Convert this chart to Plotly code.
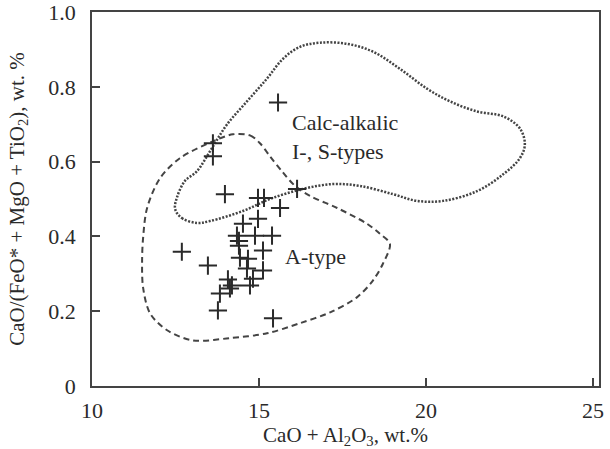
import plotly.graph_objects as go

# sample points, CaO + Al2O3 vs CaO/(FeO* + MgO + TiO2)
sample_x = [15.57, 13.62, 13.62, 13.98, 14.97, 15.15, 16.14, 15.63, 14.52, 14.97,
            14.34, 14.88, 15.39, 14.40, 14.40, 15.12, 12.69, 14.43, 14.67, 13.47,
            14.64, 15.12, 14.82, 14.07, 14.19, 14.13, 14.73, 13.83, 13.77, 15.42]
sample_y = [0.758, 0.649, 0.614, 0.513, 0.503, 0.503, 0.527, 0.476, 0.434, 0.447,
            0.402, 0.402, 0.402, 0.388, 0.375, 0.362, 0.359, 0.343, 0.340, 0.322,
            0.314, 0.309, 0.287, 0.285, 0.269, 0.261, 0.269, 0.247, 0.202, 0.181]

# calc-alkalic I-, S-types field (dotted outline)
calc_x = [12.49, 12.69, 13.14, 13.53, 14.52, 15.33, 16.32, 17.22, 18.02, 19.01,
          19.73, 20.51, 21.53, 22.31, 22.81, 22.96, 22.81, 22.31, 21.53, 20.72,
          20.03, 19.22, 18.41, 17.63, 16.83, 16.23, 15.72, 15.24, 14.64, 14.04,
          13.59, 13.14, 12.78, 12.54, 12.49]
calc_y = [0.473, 0.449, 0.436, 0.441, 0.468, 0.500, 0.527, 0.540, 0.535, 0.513,
          0.495, 0.495, 0.521, 0.566, 0.609, 0.646, 0.689, 0.721, 0.734, 0.761,
          0.795, 0.848, 0.894, 0.915, 0.918, 0.907, 0.875, 0.822, 0.761, 0.699,
          0.636, 0.574, 0.548, 0.503, 0.473]

# A-type field (dashed outline)
atype_x = [14.22, 14.73, 15.03, 15.33, 15.69, 16.08, 16.53, 17.34, 18.23, 18.62,
           18.92, 18.71, 18.41, 17.93, 17.13, 16.23, 15.24, 14.13, 13.02, 12.25,
           11.74, 11.53, 11.50, 11.53, 11.65, 12.04, 12.63, 13.62, 14.22]
atype_y = [0.673, 0.670, 0.649, 0.614, 0.574, 0.535, 0.508, 0.476, 0.434, 0.407,
           0.380, 0.327, 0.282, 0.237, 0.197, 0.168, 0.141, 0.128, 0.122, 0.149,
           0.194, 0.263, 0.335, 0.396, 0.476, 0.556, 0.609, 0.654, 0.673]

x_ticks = [10, 15, 20, 25]
y_ticks = [0, 0.2, 0.4, 0.6, 0.8, 1.0]
y_ticklabels = ["0", "0.2", "0.4", "0.6", "0.8", "1.0"]

FONT = "Liberation Serif"
INK = "#2a2a2a"

fig = go.Figure()

fig.add_trace(go.Scatter(
    x=calc_x, y=calc_y, mode="lines",
    line=dict(color="#444444", width=2.5, dash="2px,1.5px", shape="spline", smoothing=1.0),
    showlegend=False, hoverinfo="skip",
))
fig.add_trace(go.Scatter(
    x=atype_x, y=atype_y, mode="lines",
    line=dict(color="#444444", width=2, dash="6px,4px", shape="spline", smoothing=0.9),
    showlegend=False, hoverinfo="skip",
))
fig.add_trace(go.Scatter(
    x=sample_x, y=sample_y, mode="markers",
    marker=dict(symbol="cross-thin", size=13, line=dict(color=INK, width=2)),
    showlegend=False,
))

fig.add_annotation(x=15.93, y=0.665, text="Calc-alkalic<br>I-, S-types",
                   showarrow=False, xanchor="left", yanchor="middle", align="left",
                   font=dict(family=FONT, size=22, color=INK))
fig.add_annotation(x=15.72, y=0.345, text="A-type",
                   showarrow=False, xanchor="left", yanchor="middle",
                   font=dict(family=FONT, size=22, color=INK))

axis_common = dict(
    showline=True, mirror=True, linecolor="#444444", linewidth=1.5,
    showgrid=False, zeroline=False, automargin=False,
    ticks="inside", ticklen=8, tickwidth=1.5, tickcolor="#444444",
    tickfont=dict(family=FONT, size=22, color=INK),
    ticklabeloverflow="allow",
)

fig.update_xaxes(
    range=[10, 25.18], tickvals=x_ticks,
    title=dict(text="CaO + Al<sub>2</sub>O<sub>3</sub>, wt.%", standoff=2,
               font=dict(family=FONT, size=21, color=INK)),
    ticklabelstandoff=4,
    **axis_common,
)
fig.update_yaxes(
    range=[0, 1.0], tickvals=y_ticks, ticktext=y_ticklabels,
    title=dict(text="CaO/(FeO* + MgO + TiO<sub>2</sub>), wt. %", standoff=18,
               font=dict(family=FONT, size=21, color=INK)),
    ticklabelstandoff=10,
    **axis_common,
)

fig.update_layout(
    width=610, height=449,
    margin=dict(l=92, r=11, t=12, b=63),
    plot_bgcolor="white", paper_bgcolor="white",
    font=dict(family=FONT, color=INK),
)

fig.write_html("out.html", config={"displayModeBar": False},
               post_script="document.body.style.margin='0';")
